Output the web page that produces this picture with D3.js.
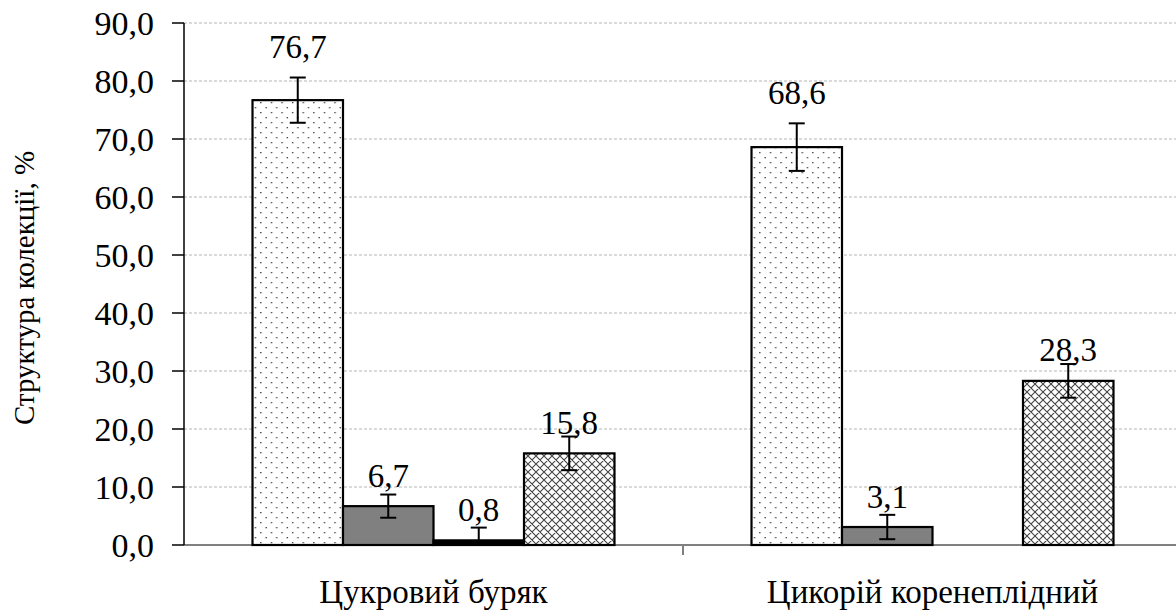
<!DOCTYPE html>
<html>
<head>
<meta charset="utf-8">
<script src="https://cdn.jsdelivr.net/npm/d3@7/dist/d3.min.js"></script>
<style>
  html, body { margin: 0; padding: 0; background: #fff; }
  #wrap { position: relative; width: 1176px; height: 615px; overflow: hidden; }
  #chart { position: absolute; left: 0; top: 0; display: block; }
  #labels { position: absolute; left: 0; top: 0; width: 1176px; height: 615px; }
  .lb { position: absolute; left: 0; top: 0; transform-origin: 0 0; white-space: nowrap;
        line-height: 1; color: #000; font-family: "Liberation Serif", Tinos, "Times New Roman", serif; }
</style>
</head>
<body>
<div id="wrap">
  <svg id="chart" width="1176" height="615"></svg>
  <div id="labels"></div>
</div>
<script>
// ---- data ----
const categories = ["Цукровий буряк", "Цикорій коренеплідний"];
const series = ["s1", "s2", "s3", "s4"];
const values = [
  [76.7, 6.7, 0.8, 15.8],
  [68.6, 3.1, null, 28.3]
];
const errors = [
  [3.9, 2.0, 2.2, 2.9],
  [4.1, 2.1, null, 2.9]
];
const yTicks = [0, 10, 20, 30, 40, 50, 60, 70, 80, 90];
const yTitle = "Структура колекції, %";

// ---- layout ----
const svg = d3.select("#chart");
const mLeft = 184, mRight = 1182, mTop = 23, mBottom = 545;

const y = d3.scaleLinear().domain([0, 90]).range([mBottom, mTop]);
const x0 = d3.scaleBand().domain(categories).range([mLeft, mRight]).padding(0);
const x1 = d3.scaleBand().domain(series).range([0, x0.bandwidth()]).paddingInner(0).paddingOuter(0.757);

const fmt = v => d3.format(".1f")(v).replace(".", ",");

// patterns
const defs = svg.append("defs");
const pDots = defs.append("pattern").attr("id", "dots").attr("patternUnits", "userSpaceOnUse")
  .attr("width", 10.6).attr("height", 10);
pDots.append("rect").attr("width", 10.6).attr("height", 10).attr("fill", "#fff");
pDots.append("rect").attr("x", 2).attr("y", 2).attr("width", 1.3).attr("height", 1.3).attr("fill", "#333");
pDots.append("rect").attr("x", 7.3).attr("y", 7).attr("width", 1.3).attr("height", 1.3).attr("fill", "#333");

const pHatch = defs.append("pattern").attr("id", "hatch").attr("patternUnits", "userSpaceOnUse")
  .attr("width", 8).attr("height", 8);
pHatch.append("rect").attr("width", 8).attr("height", 8).attr("fill", "#fff");
pHatch.append("path").attr("d", "M0,0L8,8M8,0L0,8M-1,7L1,9M7,-1L9,1M-1,1L1,-1M7,9L9,7")
  .attr("stroke", "#444").attr("stroke-width", 1.1);

const fills = ["url(#dots)", "#808080", "#000000", "url(#hatch)"];

// grid
svg.append("g").selectAll("line").data(yTicks.filter(d => d > 0)).join("line")
  .attr("x1", mLeft).attr("x2", 1176)
  .attr("y1", d => y(d)).attr("y2", d => y(d))
  .attr("stroke", "#b4b4b4").attr("stroke-width", 1).attr("stroke-dasharray", "3,2");

// x axis
const xAxis = svg.append("g").attr("transform", `translate(0,${mBottom})`);
xAxis.append("line").attr("x1", mLeft).attr("x2", mRight).attr("stroke", "#808080").attr("stroke-width", 2);
xAxis.selectAll(".xt").data(categories.slice(1)).join("line")
  .attr("x1", d => x0(d)).attr("x2", d => x0(d)).attr("y1", 0).attr("y2", 10)
  .attr("stroke", "#808080").attr("stroke-width", 2);

// label collection (rendered as HTML text)
const labels = [];
const BASE = 0.8375; // baseline offset within a 1em line box

categories.forEach(c => labels.push({
  t: c, x: x0(c) + x0.bandwidth() / 2, y: mBottom + 59 - BASE * 33, size: 33, ax: "-50%", ay: "0", rot: false
}));

// bars
const groups = svg.append("g").selectAll("g").data(categories).join("g")
  .attr("transform", d => `translate(${x0(d)},0)`);

groups.each(function(cat, ci) {
  const g = d3.select(this);
  const rows = series.map((s, si) => ({ s, si, v: values[ci][si], e: errors[ci][si] }))
    .filter(d => d.v != null);
  g.selectAll("rect").data(rows).join("rect")
    .attr("x", d => x1(d.s)).attr("width", x1.bandwidth())
    .attr("y", d => y(d.v)).attr("height", d => y(0) - y(d.v))
    .attr("fill", d => fills[d.si]).attr("stroke", "#000").attr("stroke-width", 2.2);
  // error bars
  const eb = g.selectAll(".eb").data(rows).join("g").attr("class", "eb");
  const cx = d => x1(d.s) + x1.bandwidth() / 2;
  eb.append("line").attr("x1", cx).attr("x2", cx)
    .attr("y1", d => y(d.v + d.e)).attr("y2", d => y(Math.max(0, d.v - d.e)))
    .attr("stroke", "#000").attr("stroke-width", 2);
  eb.append("line").attr("x1", d => cx(d) - 8).attr("x2", d => cx(d) + 8)
    .attr("y1", d => y(d.v + d.e)).attr("y2", d => y(d.v + d.e))
    .attr("stroke", "#000").attr("stroke-width", 2);
  eb.filter(d => d.v - d.e > 0).append("line").attr("x1", d => cx(d) - 8).attr("x2", d => cx(d) + 8)
    .attr("y1", d => y(d.v - d.e)).attr("y2", d => y(d.v - d.e))
    .attr("stroke", "#000").attr("stroke-width", 2);
  // value labels
  rows.forEach(d => labels.push({
    t: fmt(d.v), x: x0(cat) + cx(d),
    y: (d.e > 3.5 ? y(d.v + d.e) : y(d.v)) - 30, size: 33, ax: "-50%", ay: "-50%", rot: false
  }));
});

// y axis
const yAxis = svg.append("g");
yAxis.append("line").attr("x1", mLeft).attr("x2", mLeft).attr("y1", y(0)).attr("y2", y(90))
  .attr("stroke", "#000").attr("stroke-width", 1.5);
yAxis.selectAll(".yt").data(yTicks).join("line")
  .attr("x1", mLeft - 12).attr("x2", mLeft).attr("y1", d => y(d)).attr("y2", d => y(d))
  .attr("stroke", "#000").attr("stroke-width", 1.5);
yTicks.forEach(d => labels.push({
  t: fmt(d), x: 154, y: y(d) + 1, size: 34, ax: "-100%", ay: "-50%", rot: false
}));

labels.push({ t: yTitle, x: 24, y: (mTop + mBottom) / 2 + 4, size: 29, ax: "-50%", ay: "-50%", rot: true });

d3.select("#labels").selectAll("div").data(labels).join("div")
  .attr("class", "lb")
  .style("font-size", d => d.size + "px")
  .style("transform", d => `translate(${d.x}px, ${d.y}px)${d.rot ? " rotate(-90deg)" : ""} translate(${d.ax}, ${d.ay})`)
  .text(d => d.t);
</script>
</body>
</html>
